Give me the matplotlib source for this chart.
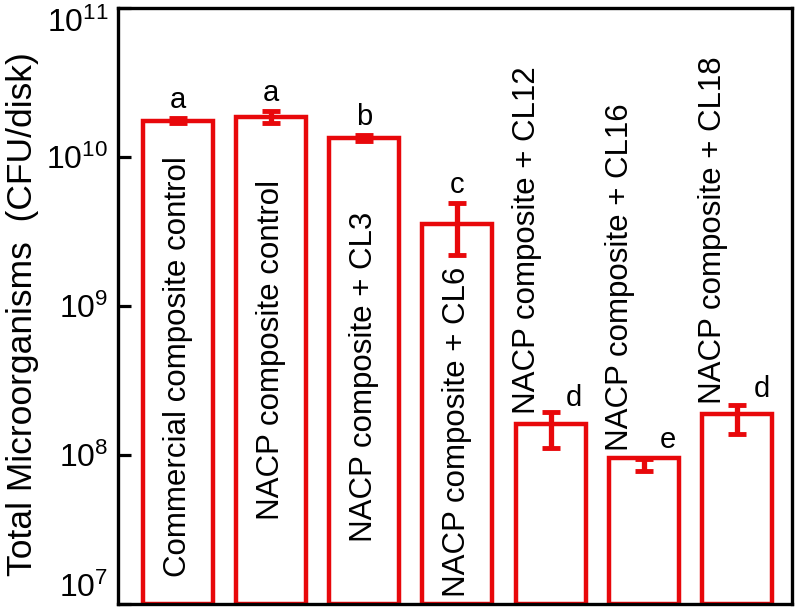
import matplotlib
matplotlib.use('Agg')
import matplotlib.pyplot as plt
import numpy as np

plt.rcParams['font.family'] = ['Liberation Sans', 'DejaVu Sans']

# bar groups, mean counts, error bars and significance letters
groups = ['Commercial composite control',
          'NACP composite control',
          'NACP composite + CL3',
          'NACP composite + CL6',
          'NACP composite + CL12',
          'NACP composite + CL16',
          'NACP composite + CL18']
counts = [1.75e10, 1.86e10, 1.34e10, 3.55e9, 1.52e8, 8.6e7, 1.78e8]
errors = [0.07e10, 0.17e10, 0.06e10, 1.35e9, 0.41e8, 0.85e7, 0.40e8]
letters = ['a', 'a', 'b', 'c', 'd', 'e', 'd']

red = '#e8080b'

fig = plt.figure(figsize=(8, 6.13), dpi=100)
ax = fig.add_axes([0.1475, 0.0147, 0.8425, 0.9723])

x = np.arange(len(groups))
ax.bar(x, counts, width=0.75, bottom=1e7, color='white', edgecolor=red,
       linewidth=3.2, zorder=2)
ax.errorbar(x, counts, yerr=errors, fmt='none', ecolor=red, elinewidth=3.8,
            capsize=6.5, capthick=3.5, zorder=3)

ax.set_yscale('log')
ax.set_ylim(1e7, 1e11)
ax.set_xlim(-0.64, 6.59)
ax.set_xticks([])
ax.yaxis.set_minor_locator(matplotlib.ticker.NullLocator())
ax.set_yticks([1e7, 1e8, 1e9, 1e10, 1e11])
ax.tick_params(axis='y', direction='in', length=9, width=2.3, labelsize=23,
               pad=7)
for sp in ax.spines.values():
    sp.set_linewidth(2.4)

# keep the end labels inside the figure
fig.canvas.draw()
tl = ax.get_yticklabels()
tl[0].set_va('bottom')
tl[-1].set_va('top')

ax.set_ylabel('Total Microorganisms  (CFU/disk)', fontsize=25.5)
ax.yaxis.set_label_coords(-0.117, 0.487)

# letters above the error bars (shifted right for the short bars)
letter_dx = [0, 0, 0, 0, 17, 17, 18]
letter_dy = [3, 3, 3, 3, 0, 3, 1]
for i, (c, e, l) in enumerate(zip(counts, errors, letters)):
    ax.annotate(l, (i, c + e), xytext=(letter_dx[i], letter_dy[i]),
                textcoords='offset points', ha='center', va='bottom',
                fontsize=21, zorder=4)

# group names: inside the tall bars, above the short ones
inside_y = [0.045, 0.141, 0.104, 0.012]
for i, g in enumerate(groups):
    if i < 4:
        ax.text(i, inside_y[i], g, rotation=90, ha='center', va='bottom',
                fontsize=22.5, transform=ax.get_xaxis_transform(), zorder=4)
    else:
        ax.annotate(g, (i, counts[i]), xytext=(-17, 10),
                    textcoords='offset points', rotation=90, ha='center',
                    va='bottom', fontsize=22.5, zorder=4)

fig.savefig('out.png', dpi=100)
